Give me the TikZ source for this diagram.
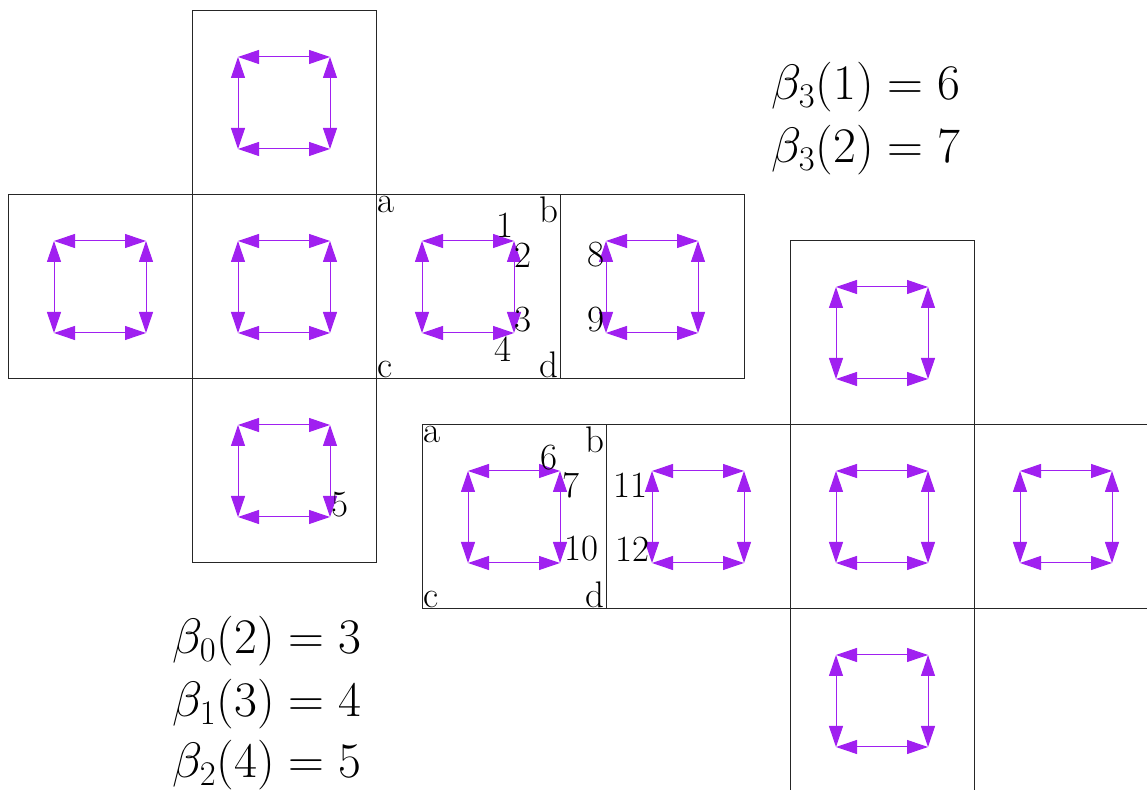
\documentclass[tikz,border=0pt]{standalone}
\usetikzlibrary{arrows.meta}
\definecolor{arrcol}{RGB}{160,32,240}
\begin{document}
\begin{tikzpicture}[x={(0.5pt,0)},y={(0,-0.5pt)},
  sq/.style={draw=black!85,line width=0.5pt},
  arr/.style={arrcol,line width=0.5pt,{Triangle[length=10.5pt,width=7pt]}-{Triangle[length=10.5pt,width=7pt]}},
  lab/.style={inner sep=0.5pt,font=\fontsize{18.5}{22}\selectfont},
  num/.style={inner sep=0pt,font=\fontsize{18.5}{22}\selectfont},
  form/.style={inner sep=0pt,anchor=base west,font=\fontsize{23.5}{28}\selectfont}]
\clip (0,0) rectangle (1147,790);
\foreach \px/\py in {192/11,8/195,192/195,376/195,560/195,192/379,790/241,422/425,606/425,790/425,974/425,790/609}{
  \draw[sq] (\px,\py) rectangle ++(184,184);
  \coordinate (p1) at (\px+46,\py+46);
  \coordinate (p2) at (\px+138,\py+46);
  \coordinate (p3) at (\px+138,\py+138);
  \coordinate (p4) at (\px+46,\py+138);
  \draw[arr] (p1) -- (p2);
  \draw[arr] (p4) -- (p3);
  \draw[arr] (p1) -- (p4);
  \draw[arr] (p2) -- (p3);
}
% left net labels
\node[lab,anchor=north west] (la) at (376,195) {a};
\node[lab,anchor=north east] (lb) at (560,195) {b};
\node[lab,anchor=south west] (lc) at (376,379) {c};
\node[lab,anchor=south east] (ld) at (560,379) {d};
\node[num] (n1) at (505,225) {1};
\node[num] (n2) at (523,255) {2};
\node[num] (n3) at (523,320) {3};
\node[num] (n4) at (503,349) {4};
\node[num] (n5) at (340,505) {5};
\node[num] (n8) at (596,255) {8};
\node[num] (n9) at (596,320) {9};
% right net labels
\node[lab,anchor=north west] (ra) at (422,425) {a};
\node[lab,anchor=north east] (rb) at (606,425) {b};
\node[lab,anchor=south west] (rc) at (422,609) {c};
\node[lab,anchor=south east] (rd) at (606,609) {d};
\node[num] (n6) at (549,458) {6};
\node[num] (n7) at (571,485) {7};
\node[num] (n10) at (581,549) {10};
\node[num] (n11) at (630,485) {11};
\node[num] (n12) at (632,549) {12};
% formulas
\node[form] (f1) at (771,100) {$\beta_3(1)=6$};
\node[form] (f2) at (771,163) {$\beta_3(2)=7$};
\node[form] (f3) at (172,654) {$\beta_0(2)=3$};
\node[form] (f4) at (172,717) {$\beta_1(3)=4$};
\node[form] (f5) at (172,778) {$\beta_2(4)=5$};
\end{tikzpicture}
\end{document}
